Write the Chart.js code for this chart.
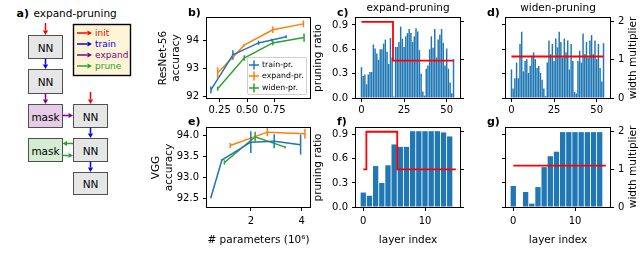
<!DOCTYPE html>
<html><head><meta charset="utf-8">
<script src="https://cdn.jsdelivr.net/npm/chart.js@4.4.1/dist/chart.umd.min.js"></script>
<style>
html,body{margin:0;padding:0;background:#fff;}
body{width:640px;height:257px;position:relative;overflow:hidden;font-family:"DejaVu Sans",sans-serif;color:#000;}
canvas{position:absolute;}
.pl{position:absolute;font-weight:bold;font-size:11px;line-height:12px;}
.rot{position:absolute;white-space:nowrap;font-size:10.5px;line-height:12px;transform:translate(-50%,-50%) rotate(-90deg);}
#legB{position:absolute;left:247px;top:57px;width:58px;height:36px;border:1px solid #cfcfcf;border-radius:2px;background:rgba(255,255,255,0.85);}
.le{position:absolute;left:0;height:11px;width:58px;font-size:7.8px;line-height:11px;white-space:nowrap;}
.le svg{position:absolute;left:1px;top:1px;}
.le span{position:absolute;left:14px;top:0;}
</style></head>
<body>
<svg id="diag" width="180" height="257" style="position:absolute;left:0;top:0" font-family="DejaVu Sans"></svg>
<canvas id="cb"></canvas>
<canvas id="cc"></canvas>
<canvas id="cd"></canvas>
<canvas id="ce"></canvas>
<canvas id="cf"></canvas>
<canvas id="cg"></canvas>
<div id="legB"></div>
<div class="pl" style="left:188px;top:7px">b)</div>
<div class="pl" style="left:337px;top:7px">c)</div>
<div class="pl" style="left:487px;top:7px">d)</div>
<div class="pl" style="left:188px;top:116px">e)</div>
<div class="pl" style="left:337px;top:116px">f)</div>
<div class="pl" style="left:487px;top:116px">g)</div>
<div class="rot" style="left:632px;top:58px">width multiplier</div>
<div class="rot" style="left:632px;top:166.5px">width multiplier</div>
<script>
// ---------------- data ----------------
const seriesNames = ['train-pr.', 'expand-pr.', 'widen-pr.'];
const seriesColors = ['#1f77b4', '#ff7f0e', '#2ca02c'];

// b) ResNet-56 accuracy vs # parameters (10^6)
const resTrainX = [0.171, 0.371, 0.605, 0.726, 0.856];
const resTrainY = [92.22, 93.47, 93.90, 94.00, 94.12];
const resTrainErr = [0.12, 0.17, 0.08, 0.05, 0.05];
const resExpandX = [0.232, 0.377, 0.474, 0.735, 1.014];
const resExpandY = [92.83, 93.41, 93.82, 94.37, 94.58];
const resExpandErr = [0.20, 0.05, 0.05, 0.12, 0.12];
const resWidenX = [0.232, 0.474, 0.735, 1.02];
const resWidenY = [92.26, 93.36, 93.90, 94.09];
const resWidenErr = [0.07, 0.10, 0.08, 0.15];

// e) VGG accuracy vs # parameters (10^6)
const vggTrainX = [0.43, 0.86, 2.0, 2.92, 3.96];
const vggTrainY = [92.52, 93.42, 93.85, 93.87, 93.79];
const vggTrainErr = [0.02, 0.02, 0.26, 0.17, 0.24];
const vggExpandX = [1.19, 2.65, 4.13];
const vggExpandY = [93.77, 94.09, 94.05];
const vggExpandErr = [0.06, 0.10, 0.12];
const vggWidenX = [0.96, 2.17, 3.35];
const vggWidenY = [93.36, 93.98, 93.73];
const vggWidenErr = [0.05, 0.12, 0.03];

// c) / d) ResNet-56 per-layer
const resLayers = Array.from({length: 55}, (_, i) => i);
const pruneC = [0.38,0.27,0.29,0.17,0.29,0.32,0.32,0.66,0.61,0.55,0.47,0.60,0.60,0.67,0.72,0.57,0.42,0.74,0.50,0.02,
  0.63,0.63,0.69,0.88,0.73,0.63,0.76,0.80,0.85,0.80,0.69,0.76,0.86,0.82,0.59,0.30,0.08,0.03,
  0.36,0.40,0.60,0.76,0.62,0.85,0.50,0.72,0.78,0.85,0.68,0.40,0.61,0.36,0.19,0.06,0.48];
const expandWidthC = [2,2,2,2,2,2,2,2,2,2,2,2,2,2,2,2,2,2,2,
  0.98,0.98,0.98,0.98,0.98,0.98,0.98,0.98,0.98,0.98,0.98,0.98,0.98,0.98,0.98,0.98,0.98,0.98,
  0.98,0.98,0.98,0.98,0.98,0.98,0.98,0.98,0.98,0.98,0.98,0.98,0.98,0.98,0.98,0.98,0.98,0.98];
const widenD = [0.75,0.25,0.52,0.93,0.52,1.42,1.74,0.70,0.97,1.02,0.66,0.84,1.11,1.20,1.02,0.79,0.84,0.66,0.48,0.25,
  0.05,0.93,1.51,1.15,1.42,0.97,1.56,1.33,1.74,1.47,1.06,1.56,1.20,1.51,0.75,1.42,0.97,0.16,0.12,
  0.97,1.24,0.93,1.69,1.15,1.47,1.06,1.51,1.65,1.15,1.51,1.02,1.42,0.79,0.43,1.44];
const widenWidthDLayers = [0, 54];
const widenWidthD = [1.09, 1.09];

// f) / g) VGG per-layer
const vggLayers = Array.from({length: 16}, (_, i) => i);
const pruneF = [0.18,0.14,0.51,0.30,0.52,0.78,0.75,0.75,0.945,0.945,0.945,0.945,0.945,0.93,0.88];
const expandWidthF = [1,2,2,2,2,2,1,1,1,1,1,1,1,1,1,1];
const widenG = [0.56,0,0.40,0.09,0.53,1.06,1.35,1.47,1.99,1.99,1.99,1.99,1.99,1.99,1.99];
const widenWidthGLayers = [0, 15];
const widenWidthG = [1.1, 1.1];

// ---------------- diagram (panel a) ----------------
(function(){
  const svg = document.getElementById('diag');
  let s = '';
  const RED='#ff0000', BLUE='#0000ff', PUR='#800080', GRN='#2ca02c';
  function box(x,y,w,h,fill,txt){
    s += `<rect x="${x+0.5}" y="${y+0.5}" width="${w}" height="${h}" fill="${fill}" stroke="#505050" stroke-width="1"/>`;
    s += `<text x="${x+w/2+0.5}" y="${y+h/2+1}" text-anchor="middle" dominant-baseline="central" font-size="10.5">${txt}</text>`;
  }
  function arrow(x1,y1,x2,y2,c){
    const dx=x2-x1, dy=y2-y1, L=Math.hypot(dx,dy), ux=dx/L, uy=dy/L, h=4.5, w=2.6;
    const bx=x2-ux*h, by=y2-uy*h;
    s += `<line x1="${x1}" y1="${y1}" x2="${bx}" y2="${by}" stroke="${c}" stroke-width="1.5"/>`;
    s += `<polygon points="${x2},${y2} ${bx-uy*w},${by+ux*w} ${bx+uy*w},${by-ux*w}" fill="${c}"/>`;
  }
  s += `<text x="16.5" y="16.5" font-weight="bold" font-size="11">a)</text>`;
  s += `<text x="33.5" y="16.5" font-size="10.5">expand-pruning</text>`;
  box(28,35,34,23,'#e6e6e6','NN');
  box(28,69,34,24,'#e6e6e6','NN');
  box(28,104,34,23,'#e6cce6','mask');
  box(73,104,34,23,'#e6e6e6','NN');
  box(28,138,34,23,'#d3edd3','mask');
  box(73,138,34,23,'#e6e6e6','NN');
  box(73,172,34,22,'#e6e6e6','NN');
  arrow(45.5,23,45.5,35,RED);
  arrow(45.5,58.5,45.5,69,BLUE);
  arrow(45.5,93.5,45.5,104,PUR);
  arrow(62.5,115.5,73,115.5,PUR);
  arrow(90.5,92,90.5,104,RED);
  arrow(90.5,127.5,90.5,138,BLUE);
  arrow(73,143.5,62.5,143.5,GRN);
  arrow(62.5,155.5,73,155.5,GRN);
  arrow(90.5,161.5,90.5,172,BLUE);
  s += `<rect x="73.5" y="24.5" width="57" height="51" fill="#fff4d6" stroke="#000" stroke-width="1.4"/>`;
  const leg = [['init',RED,33],['train',BLUE,44],['expand',PUR,55],['prune',GRN,66]];
  leg.forEach(([t,c,y])=>{ arrow(77,y,92,y,c); s += `<text x="95" y="${y}" dominant-baseline="central" font-size="9" fill="${c}">${t}</text>`; });
  svg.innerHTML = s;
})();

// ---------------- legend for b ----------------
(function(){
  const lg = document.getElementById('legB');
  seriesNames.forEach((n,i)=>{
    const d = document.createElement('div');
    d.className = 'le';
    d.style.top = (1 + i*11.4) + 'px';
    d.innerHTML = `<svg width="10" height="10"><line x1="0" y1="5" x2="10" y2="5" stroke="${seriesColors[i]}" stroke-width="1.5"/><line x1="5" y1="0.5" x2="5" y2="9.5" stroke="${seriesColors[i]}" stroke-width="1.5"/></svg><span>${n}</span>`;
    lg.appendChild(d);
  });
})();

// ---------------- charts ----------------
Chart.defaults.font.family = '"DejaVu Sans", sans-serif';
Chart.defaults.font.size = 10;
Chart.defaults.color = '#000';

const framePlugin = {
  id: 'frame',
  afterDraw(chart){
    const {ctx, chartArea: a} = chart;
    ctx.save();
    ctx.strokeStyle = '#000';
    ctx.lineWidth = 1;
    ctx.strokeRect(Math.round(a.left)-0.5, Math.round(a.top)-0.5, Math.round(a.right)-Math.round(a.left)+1, Math.round(a.bottom)-Math.round(a.top)+1);
    ctx.restore();
  }
};
const errPlugin = {
  id: 'errbars',
  afterDatasetsDraw(chart){
    const ctx = chart.ctx, xs = chart.scales.x, ys = chart.scales.y;
    chart.data.datasets.forEach(ds=>{
      if(!ds.errors) return;
      ctx.save();
      ctx.strokeStyle = ds.borderColor;
      ctx.lineWidth = 1.5;
      ds.data.forEach((p,j)=>{
        const e = ds.errors[j];
        const px = xs.getPixelForValue(p.x);
        ctx.beginPath();
        ctx.moveTo(px, ys.getPixelForValue(p.y - e));
        ctx.lineTo(px, ys.getPixelForValue(p.y + e));
        ctx.stroke();
      });
      ctx.restore();
    });
  }
};

function setCanvas(id,l,t,w,h){
  const c = document.getElementById(id);
  c.width = w; c.height = h;
  c.style.left = l+'px'; c.style.top = t+'px';
  c.style.width = w+'px'; c.style.height = h+'px';
  return c;
}
function axis(o){
  const isX = o.pos === 'bottom';
  return {
    type: 'linear', position: o.pos, min: o.min, max: o.max, offset: false,
    border: {display: false},
    grid: {display: true, offset: false, drawOnChartArea: false, drawTicks: true, tickLength: 4, tickColor: '#000', tickWidth: 1},
    ticks: {display: o.show !== false, padding: isX ? (o.pad != null ? o.pad : 3) : 4, autoSkip: false, maxRotation: 0,
            callback: v => o.fmt ? o.fmt(v) : String(v), font: {size: 10}},
    afterBuildTicks: s => { s.ticks = o.ticks.map(v => ({value: v})); },
    afterFit: isX ? (s => { s.height = o.size; }) : (s => { s.width = o.size; }),
    title: o.title || {display: false}
  };
}
const base = (pad, title) => ({
  responsive: false, animation: false, devicePixelRatio: 1,
  layout: {padding: pad},
  plugins: {
    legend: {display: false}, tooltip: {enabled: false},
    title: title ? {display: true, text: title, fullSize: false, color: '#000',
      font: {size: 10.5, weight: 'normal'}, padding: {top: 1.5, bottom: 3.9}} : {display: false}
  }
});
const zip = (xs, ys) => xs.map((x,i) => ({x, y: ys[i]}));
function lineDs(i, xs, ys, errs){
  return {type: 'line', label: seriesNames[i], data: zip(xs, ys), errors: errs,
    borderColor: seriesColors[i], backgroundColor: seriesColors[i], borderWidth: 1.5, pointRadius: 0, tension: 0};
}

// b
new Chart(setCanvas('cb',150,0,164,122), {
  type: 'line',
  data: {datasets: [lineDs(0,resTrainX,resTrainY,resTrainErr), lineDs(1,resExpandX,resExpandY,resExpandErr), lineDs(2,resWidenX,resWidenY,resWidenErr)]},
  options: Object.assign(base({top:18,right:4,left:0,bottom:0}), {
    scales: {
      x: axis({pos:'bottom', min:0.135, max:1.074, ticks:[0.25,0.5,0.75], fmt:v=>v.toFixed(2), size:24, pad:2}),
      y: axis({pos:'left', min:91.93, max:94.79, ticks:[92,93,94], size:57,
        title:{display:true, text:['ResNet-56','accuracy'], font:{size:10.5}, padding:{top:7,bottom:0}}})
    }
  }),
  plugins: [errPlugin, framePlugin]
});

// e
new Chart(setCanvas('ce',143,118,171,134), {
  type: 'line',
  data: {datasets: [lineDs(0,vggTrainX,vggTrainY,vggTrainErr), lineDs(1,vggExpandX,vggExpandY,vggExpandErr), lineDs(2,vggWidenX,vggWidenY,vggWidenErr)]},
  options: Object.assign(base({top:8,right:4,left:0,bottom:0}), {
    scales: {
      x: axis({pos:'bottom', min:0.275, max:4.33, ticks:[2,4], size:45, pad:4,
        title:{display:true, text:'# parameters (10\u2076)', font:{size:10.5}, padding:{top:0,bottom:5.7}}}),
      y: axis({pos:'left', min:92.29, max:94.19, ticks:[92.5,93,93.5,94], fmt:v=>v.toFixed(1), size:64,
        title:{display:true, text:['VGG','accuracy'], font:{size:10.5}, padding:{top:7,bottom:0}}})
    }
  }),
  plugins: [errPlugin, framePlugin]
});

function barChart(id, l, t, w, h, o){
  return new Chart(setCanvas(id,l,t,w,h), {
    type: 'bar',
    data: {labels: o.labels, datasets: [
      {type:'line', data: o.red, yAxisID:'y2', borderColor:'#ff0000', borderWidth:1.8, pointRadius:0, stepped: o.stepped || false, order:0},
      {type:'bar', data: o.bars, yAxisID: o.barAxis, backgroundColor:'#1f77b4', borderWidth:0, barPercentage:0.86, categoryPercentage:1, order:1}
    ]},
    options: Object.assign(base({top:o.padTop,right:0,left:0,bottom:0}, o.title), {
      scales: {
        x: axis({pos:'bottom', min:o.xmin, max:o.xmax, ticks:o.xticks, size:o.xsize, pad:o.xpad, title:o.xtitle}),
        y: axis({pos:'left', min:0, max:o.ymax, ticks:[0,0.3,0.6,0.9], fmt:v=>v.toFixed(1), size:o.lsize, show:o.leftShow, title:o.ytitle}),
        y2: axis({pos:'right', min:0, max:o.y2max, ticks:[0,1,2], size:o.rsize, show:o.rightShow})
      }
    }),
    plugins: [framePlugin]
  });
}
const prTitle = {display:true, text:'pruning ratio', font:{size:10.5}, padding:{top:7,bottom:0}};
const liTitle = {display:true, text:'layer index', font:{size:10.5}, padding:{top:0,bottom:5.7}};

// c
barChart('cc',305,0,163,122,{labels:resLayers, red:expandWidthC, stepped:'middle', bars:pruneC, barAxis:'y',
  padTop:0, title:'expand-pruning', xmin:-3.2, xmax:57.8, xticks:[0,25,50], xsize:24, xpad:2,
  ymax:0.986, y2max:2.1, lsize:51, rsize:8, leftShow:true, rightShow:false, ytitle:prTitle});
// d
barChart('cd',498,0,142,122,{labels:resLayers, red:zip(widenWidthDLayers, widenWidthD), bars:widenD, barAxis:'y2',
  padTop:0, title:'widen-pruning', xmin:-3.2, xmax:57.8, xticks:[0,25,50], xsize:24, xpad:2,
  ymax:0.986, y2max:2.1, lsize:8, rsize:30, leftShow:false, rightShow:true});
// f
barChart('cf',305,118,163,134,{labels:vggLayers, red:expandWidthF, stepped:'middle', bars:pruneF, barAxis:'y',
  padTop:8, xmin:-1.18, xmax:15.67, xticks:[0,10], xsize:45, xpad:4, xtitle:liTitle,
  ymax:0.985, y2max:2.1, lsize:51, rsize:8, leftShow:true, rightShow:false, ytitle:prTitle});
// g
barChart('cg',498,118,142,134,{labels:vggLayers, red:zip(widenWidthGLayers, widenWidthG), bars:widenG, barAxis:'y2',
  padTop:8, xmin:-1.18, xmax:15.67, xticks:[0,10], xsize:45, xpad:4, xtitle:liTitle,
  ymax:0.985, y2max:2.1, lsize:8, rsize:30, leftShow:false, rightShow:true});
</script>
</body></html>
